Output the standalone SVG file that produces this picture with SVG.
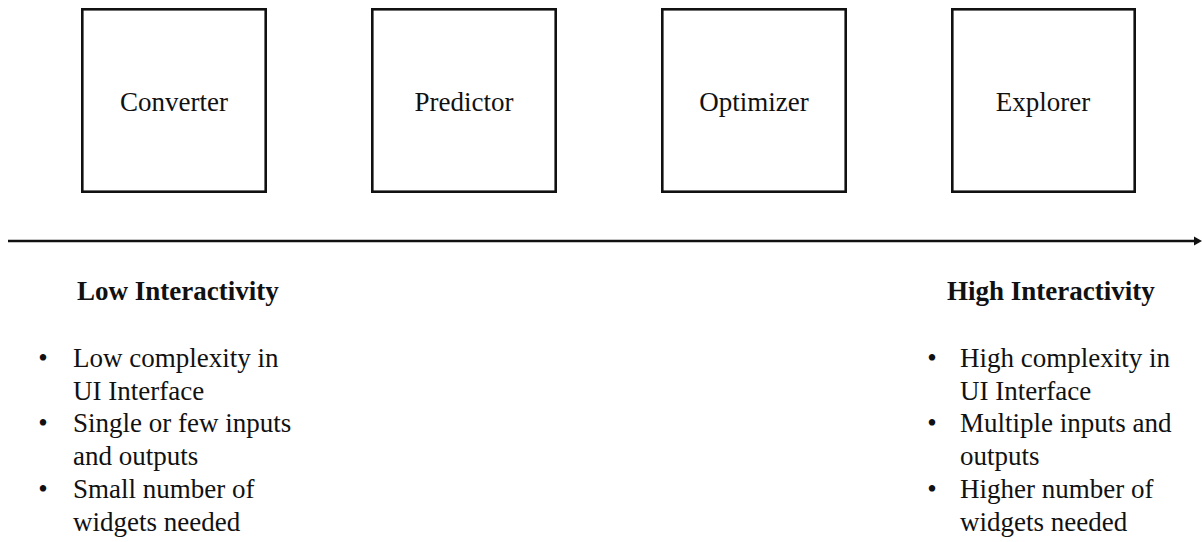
<svg xmlns="http://www.w3.org/2000/svg" width="1202" height="542" viewBox="0 0 1202 542">
<style>
text{font-family:"Liberation Serif","Times New Roman",serif;font-size:27px;fill:#111}
.box{fill:#fff;stroke:#111;stroke-width:2.6}
.lbl{text-anchor:middle}
.hd{font-weight:bold}
.bul{text-anchor:middle}
</style>
<defs>
<marker id="ah" viewBox="0 0 8 10" refX="1" refY="5" markerWidth="8" markerHeight="10" orient="auto" markerUnits="userSpaceOnUse">
<path d="M0,0.5 L8,5 L0,9.5 z" fill="#111"/>
</marker>
</defs>
<rect width="1202" height="542" fill="#fff"/>
<g id="node-converter"><rect class="box" x="82.3" y="9.3" width="183.4" height="182.4"/><text class="lbl" x="174" y="111">Converter</text></g>
<g id="node-predictor"><rect class="box" x="372.3" y="9.3" width="183.4" height="182.4"/><text class="lbl" x="464" y="111">Predictor</text></g>
<g id="node-optimizer"><rect class="box" x="662.3" y="9.3" width="183.4" height="182.4"/><text class="lbl" x="754" y="111">Optimizer</text></g>
<g id="node-explorer"><rect class="box" x="952.3" y="9.3" width="182.4" height="182.4"/><text class="lbl" x="1043" y="111">Explorer</text></g>
<g id="connectors">
<line x1="8" y1="241" x2="1195" y2="241" stroke="#111" stroke-width="2.4" marker-end="url(#ah)"/>
</g>
<g id="low">
<text class="hd" x="77" y="300">Low Interactivity</text>
<text class="bul" x="43" y="367">•</text><text x="73" y="367">Low complexity in</text>
<text x="73" y="400">UI Interface</text>
<text class="bul" x="43" y="432">•</text><text x="73" y="432">Single or few inputs</text>
<text x="73" y="465">and outputs</text>
<text class="bul" x="43" y="498">•</text><text x="73" y="498">Small number of</text>
<text x="73" y="531">widgets needed</text>
</g>
<g id="high">
<text class="hd" x="947" y="300">High Interactivity</text>
<text class="bul" x="932" y="367">•</text><text x="960" y="367">High complexity in</text>
<text x="960" y="400">UI Interface</text>
<text class="bul" x="932" y="432">•</text><text x="960" y="432">Multiple inputs and</text>
<text x="960" y="465">outputs</text>
<text class="bul" x="932" y="498">•</text><text x="960" y="498">Higher number of</text>
<text x="960" y="531">widgets needed</text>
</g>
</svg>
